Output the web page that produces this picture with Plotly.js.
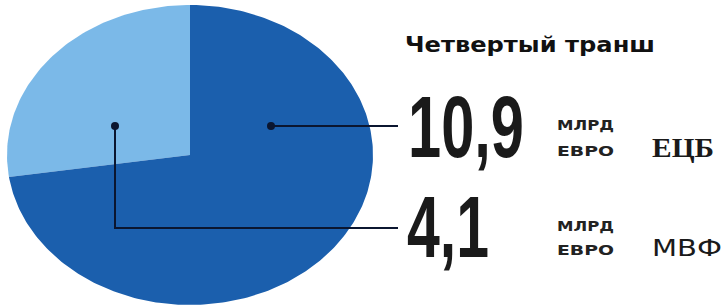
<!DOCTYPE html>
<html>
<head>
<meta charset="utf-8">
<script src="https://cdn.plot.ly/plotly-3.0.1.min.js"></script>
<style>
html,body{margin:0;padding:0;background:#fff;}
#chart{width:726px;height:308px;}
</style>
</head>
<body>
<div id="chart"></div>
<script>
// ---- data ----
const categories = ["ЕЦБ", "МВФ"];
const values = [10.9, 4.1];
const valueLabels = ["10,9", "4,1"];
const unitLine1 = "МЛРД";
const unitLine2 = "ЕВРО";
const chartTitle = "Четвертый транш";
const colors = ["#1b5fad", "#7bb9e8"];

// ---- layout constants (pixel space) ----
const W = 726, H = 308;
const cx = 190, cy = 155, rx = 183, ry = 150;

const total = values.reduce((a, b) => a + b, 0);
// slices drawn counter-clockwise from 12 o'clock: the smaller (МВФ) first, then ЕЦБ
const order = [1, 0];
let startDeg = 90;
const traces = [];
order.forEach(i => {
  const span = 360 * values[i] / total;
  const xs = [cx], ys = [cy];
  const steps = Math.max(8, Math.ceil(span));
  for (let k = 0; k <= steps; k++) {
    const a = (startDeg + span * k / steps) * Math.PI / 180;
    xs.push(cx + rx * Math.cos(a));
    ys.push(cy - ry * Math.sin(a));
  }
  xs.push(cx); ys.push(cy);
  traces.push({
    type: "scatter", mode: "lines", x: xs, y: ys, fill: "toself",
    fillcolor: colors[i], line: {width: 0, color: colors[i]},
    name: categories[i], hoverinfo: "name", showlegend: false
  });
  startDeg += span;
});

const lineColor = "#0b1630";
const shapes = [
  {type: "line", xref: "x", yref: "y", x0: 271, y0: 126, x1: 398, y1: 126, line: {color: lineColor, width: 2}},
  {type: "line", xref: "x", yref: "y", x0: 115, y0: 126, x1: 115, y1: 228, line: {color: lineColor, width: 2}},
  {type: "line", xref: "x", yref: "y", x0: 114, y0: 228, x1: 398, y1: 228, line: {color: lineColor, width: 2}},
  {type: "circle", xref: "x", yref: "y", x0: 267, y0: 122, x1: 275, y1: 130, fillcolor: lineColor, line: {width: 0}},
  {type: "circle", xref: "x", yref: "y", x0: 111, y0: 122, x1: 119, y1: 130, fillcolor: lineColor, line: {width: 0}}
];

const bigFont = {family: "'Liberation Sans', Arial, sans-serif", size: 62, color: "#1a1a1a", weight: "bold"};
const bigScaleY = 1.4;
const unitFont = {family: "'DejaVu Sans', Verdana, sans-serif", size: 14, color: "#222", weight: "bold"};
const rowY = [126.5, 226.5];
const bigX = [406, 405];
const bigW = [116, 82];
const unitY1 = [125, 226];
const unitY2 = [151, 250];
const nameY = [148, 248];
const nameFonts = [
  {family: "'Liberation Serif', 'DejaVu Serif', serif", size: 27, color: "#1a1a1a", weight: "bold"},
  {family: "'DejaVu Sans', Verdana, sans-serif", size: 23, color: "#1a1a1a"}
];
const nameW = [62, 70];

const annotations = [];
const stretch = []; // target text widths by annotation index
const scaleY = [];  // vertical scale by annotation index
function addAnn(a, w, s) { annotations.push(a); stretch.push(w); scaleY.push(s || 1); }

addAnn({text: chartTitle, x: 403, y: 45, xref: "x", yref: "y", xanchor: "left", yanchor: "middle", align: "left",
  showarrow: false, font: {family: "'DejaVu Sans', sans-serif", size: 21, color: "#111", weight: "bold"}}, 250);
[0, 1].forEach(i => {
  addAnn({text: valueLabels[i], x: bigX[i], y: rowY[i], xref: "x", yref: "y", xanchor: "left", yanchor: "middle", align: "left",
    showarrow: false, font: bigFont}, bigW[i], bigScaleY);
  addAnn({text: unitLine1, x: 555, y: unitY1[i], xref: "x", yref: "y", xanchor: "left", yanchor: "middle", align: "left",
    showarrow: false, font: unitFont}, 57);
  addAnn({text: unitLine2, x: 555, y: unitY2[i], xref: "x", yref: "y", xanchor: "left", yanchor: "middle", align: "left",
    showarrow: false, font: unitFont}, 57);
  addAnn({text: categories[i], x: 650, y: nameY[i], xref: "x", yref: "y", xanchor: "left", yanchor: "middle", align: "left",
    showarrow: false, font: nameFonts[i]}, nameW[i]);
});

const layout = {
  width: W, height: H,
  margin: {l: 0, r: 0, t: 0, b: 0, pad: 0},
  paper_bgcolor: "#ffffff", plot_bgcolor: "#ffffff",
  xaxis: {range: [0, W], visible: false, fixedrange: true},
  yaxis: {range: [H, 0], visible: false, fixedrange: true},
  shapes: shapes,
  annotations: annotations,
  showlegend: false
};

Plotly.newPlot("chart", traces, layout, {displayModeBar: false, staticPlot: true}).then(gd => {
  gd.querySelectorAll("g.annotation").forEach(g => {
    const idx = +g.getAttribute("data-index");
    const t = g.querySelector("text.annotation-text");
    const w = stretch[idx];
    if (t && w) {
      t.setAttribute("textLength", w);
      t.setAttribute("lengthAdjust", "spacingAndGlyphs");
      const bg = g.querySelector("rect.bg");
      if (bg) bg.setAttribute("width", w + 4);
    }
    const s = scaleY[idx];
    if (t && s !== 1) {
      const b = t.getBBox();
      const c = b.y + b.height / 2;
      t.setAttribute("transform", "translate(0," + c + ") scale(1," + s + ") translate(0," + (-c) + ")");
    }
  });
});
</script>
</body>
</html>
